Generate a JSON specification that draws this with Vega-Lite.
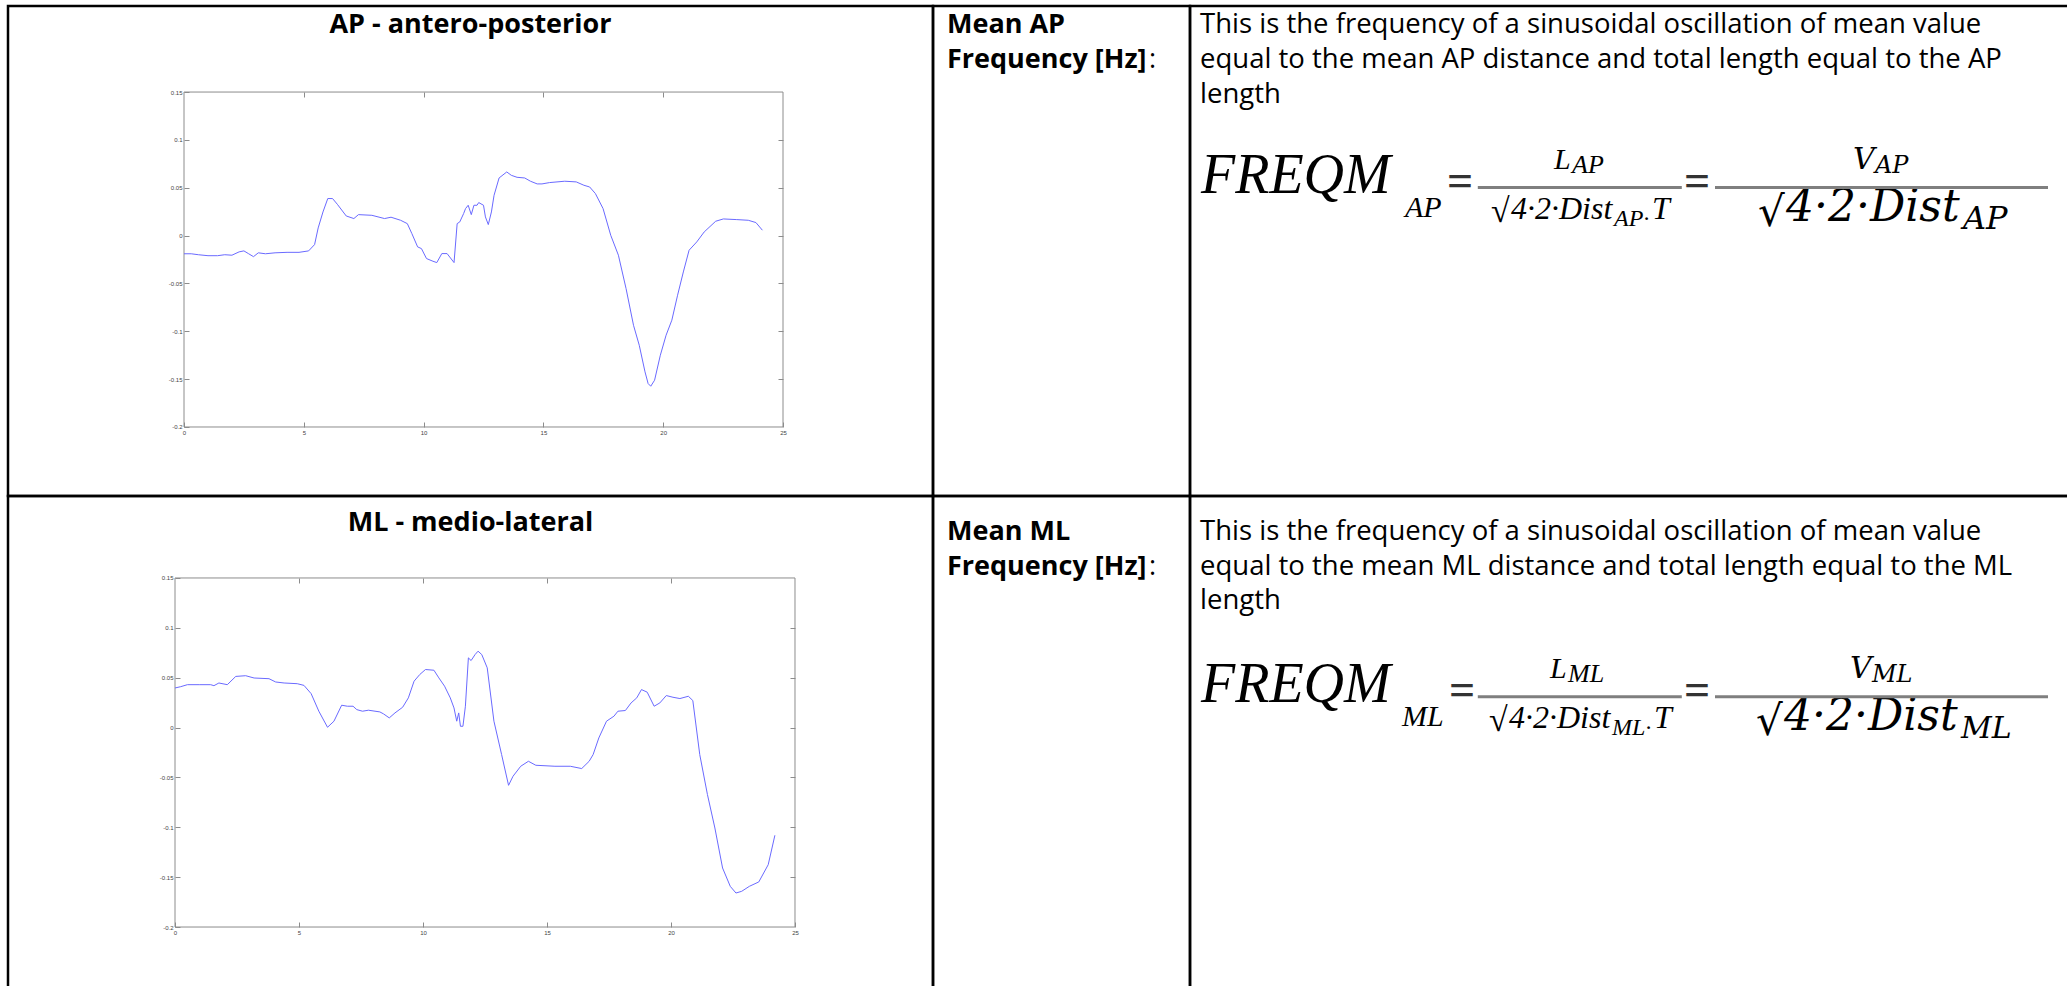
{
 "$schema": "https://vega.github.io/schema/vega-lite/v6.json",
 "autosize": {"type": "pad"},
 "padding": {"left": 6, "top": 4, "right": 0, "bottom": 0},
 "background": "white",
 "config": {
  "view": {"stroke": "#000000", "strokeWidth": 2.5},
  "axis": {"grid": false, "domain": false},
  "concat": {"spacing": 0}
 },
 "datasets": {
  "ap": [
   {"t":0,"v":-0.019},{"t":0.3,"v":-0.019},{"t":0.6,"v":-0.02},{"t":1.0,"v":-0.021},{"t":1.4,"v":-0.021},{"t":1.7,"v":-0.02},{"t":2.0,"v":-0.0205},{"t":2.3,"v":-0.017},{"t":2.5,"v":-0.016},{"t":2.7,"v":-0.019},{"t":2.9,"v":-0.022},{"t":3.1,"v":-0.018},{"t":3.4,"v":-0.019},{"t":3.8,"v":-0.018},{"t":4.3,"v":-0.0175},{"t":4.8,"v":-0.0175},{"t":5.2,"v":-0.016},{"t":5.45,"v":-0.0094},{"t":5.6,"v":0.008},{"t":5.8,"v":0.0247},{"t":6.0,"v":0.0387},{"t":6.2,"v":0.0387},{"t":6.4,"v":0.0327},{"t":6.77,"v":0.0205},{"t":7.09,"v":0.0178},{"t":7.28,"v":0.0219},{"t":7.84,"v":0.0212},{"t":8.37,"v":0.0178},{"t":8.64,"v":0.0192},{"t":9.04,"v":0.016},{"t":9.32,"v":0.0125},{"t":9.51,"v":0.0021},{"t":9.75,"v":-0.0118},{"t":9.91,"v":-0.0136},{"t":10.12,"v":-0.024},{"t":10.39,"v":-0.0268},{"t":10.55,"v":-0.0282},{"t":10.76,"v":-0.0188},{"t":10.98,"v":-0.0188},{"t":11.27,"v":-0.0282},{"t":11.4,"v":0.0125},{"t":11.51,"v":0.0143},{"t":11.67,"v":0.023},{"t":11.75,"v":0.0282},{"t":11.86,"v":0.0317},{"t":11.99,"v":0.0219},{"t":12.1,"v":0.0317},{"t":12.23,"v":0.0317},{"t":12.3,"v":0.0345},{"t":12.5,"v":0.0317},{"t":12.58,"v":0.0195},{"t":12.7,"v":0.0115},{"t":12.83,"v":0.0247},{"t":12.94,"v":0.0421},{"t":13.15,"v":0.0602},{"t":13.47,"v":0.0665},{"t":13.66,"v":0.063},{"t":13.9,"v":0.0609},{"t":14.22,"v":0.0602},{"t":14.46,"v":0.0568},{"t":14.74,"v":0.054},{"t":14.94,"v":0.054},{"t":15.26,"v":0.0554},{"t":15.89,"v":0.0568},{"t":16.37,"v":0.0561},{"t":16.69,"v":0.0526},{"t":16.93,"v":0.0508},{"t":17.17,"v":0.0439},{"t":17.49,"v":0.0282},{"t":17.81,"v":0.0003},{"t":18.13,"v":-0.0205},{"t":18.45,"v":-0.0554},{"t":18.76,"v":-0.0937},{"t":19.0,"v":-0.1146},{"t":19.24,"v":-0.1424},{"t":19.37,"v":-0.1546},{"t":19.48,"v":-0.1574},{"t":19.64,"v":-0.1511},{"t":19.88,"v":-0.125},{"t":20.12,"v":-0.1041},{"t":20.36,"v":-0.0884},{"t":20.6,"v":-0.0623},{"t":20.84,"v":-0.038},{"t":21.08,"v":-0.0153},{"t":21.4,"v":-0.0066},{"t":21.71,"v":0.0038},{"t":22.19,"v":0.015},{"t":22.51,"v":0.0174},{"t":23.07,"v":0.0167},{"t":23.55,"v":0.016},{"t":23.87,"v":0.0136},{"t":24.14,"v":0.0056}
  ],
  "ml": [
   {"t":0,"v":0.0397},{"t":0.23,"v":0.041},{"t":0.5,"v":0.043},{"t":1.0,"v":0.043},{"t":1.44,"v":0.043},{"t":1.57,"v":0.042},{"t":1.77,"v":0.0447},{"t":2.11,"v":0.043},{"t":2.45,"v":0.0513},{"t":2.85,"v":0.052},{"t":3.19,"v":0.0497},{"t":3.79,"v":0.049},{"t":4.06,"v":0.0457},{"t":4.4,"v":0.0447},{"t":4.93,"v":0.044},{"t":5.2,"v":0.0423},{"t":5.49,"v":0.034},{"t":5.8,"v":0.0164},{"t":6.15,"v":0.0003},{"t":6.41,"v":0.0064},{"t":6.72,"v":0.0224},{"t":6.95,"v":0.0214},{"t":7.18,"v":0.0214},{"t":7.33,"v":0.018},{"t":7.56,"v":0.0164},{"t":7.8,"v":0.0174},{"t":8.26,"v":0.0157},{"t":8.41,"v":0.0137},{"t":8.64,"v":0.0097},{"t":8.87,"v":0.0147},{"t":9.18,"v":0.0204},{"t":9.41,"v":0.0298},{"t":9.64,"v":0.0465},{"t":9.87,"v":0.0532},{"t":10.1,"v":0.0582},{"t":10.44,"v":0.0575},{"t":10.64,"v":0.0498},{"t":10.87,"v":0.0415},{"t":11.1,"v":0.0298},{"t":11.25,"v":0.0197},{"t":11.36,"v":0.0064},{"t":11.44,"v":0.0147},{"t":11.51,"v":0.0013},{"t":11.61,"v":0.0013},{"t":11.71,"v":0.0214},{"t":11.83,"v":0.0699},{"t":11.94,"v":0.0672},{"t":12.1,"v":0.0732},{"t":12.22,"v":0.0766},{"t":12.37,"v":0.0732},{"t":12.59,"v":0.0599},{"t":12.86,"v":0.0064},{"t":13.17,"v":-0.0271},{"t":13.45,"v":-0.0579},{"t":13.63,"v":-0.0488},{"t":13.94,"v":-0.0388},{"t":14.25,"v":-0.0338},{"t":14.55,"v":-0.0378},{"t":15.32,"v":-0.0388},{"t":15.94,"v":-0.0388},{"t":16.4,"v":-0.0411},{"t":16.7,"v":-0.0338},{"t":16.86,"v":-0.0271},{"t":17.09,"v":-0.0104},{"t":17.4,"v":0.0064},{"t":17.7,"v":0.0114},{"t":17.86,"v":0.0164},{"t":18.16,"v":0.0171},{"t":18.39,"v":0.0247},{"t":18.62,"v":0.0298},{"t":18.81,"v":0.0381},{"t":19.04,"v":0.0355},{"t":19.32,"v":0.0214},{"t":19.55,"v":0.0247},{"t":19.81,"v":0.0321},{"t":20.08,"v":0.0304},{"t":20.36,"v":0.0291},{"t":20.7,"v":0.0314},{"t":20.88,"v":0.0271},{"t":21.16,"v":-0.0271},{"t":21.47,"v":-0.0672},{"t":21.77,"v":-0.1007},{"t":22.08,"v":-0.1408},{"t":22.39,"v":-0.1592},{"t":22.62,"v":-0.1659},{"t":22.85,"v":-0.1642},{"t":23.16,"v":-0.1592},{"t":23.54,"v":-0.1548},{"t":23.92,"v":-0.1375},{"t":24.19,"v":-0.108}
  ],
  "frame": [{"t0": 0, "t1": 25, "v0": -0.2, "v1": 0.15}],
  "text": [
   {"cell":"AP","col":"label","line":1,"part":"label","text":"Mean AP"},
   {"cell":"AP","col":"label","line":2,"part":"label","text":"Frequency [Hz]"},
   {"cell":"AP","col":"label","line":2,"part":"colon","text":":"},
   {"cell":"AP","col":"desc","line":1,"part":"para","text":"This is the frequency of a sinusoidal oscillation of mean value"},
   {"cell":"AP","col":"desc","line":2,"part":"para","text":"equal to the mean AP distance and total length equal to the AP"},
   {"cell":"AP","col":"desc","line":3,"part":"para","text":"length"},
   {"cell":"AP","col":"desc","line":6,"part":"lhs","text":"FREQM"},
   {"cell":"AP","col":"desc","line":6,"part":"lhsSub","text":"AP"},
   {"cell":"AP","col":"desc","line":6,"part":"eq1","text":"="},
   {"cell":"AP","col":"desc","line":6,"part":"bar1","text":""},
   {"cell":"AP","col":"desc","line":6,"part":"num1","text":"L"},
   {"cell":"AP","col":"desc","line":6,"part":"num1Sub","text":"AP"},
   {"cell":"AP","col":"desc","line":6,"part":"rad1","text":"√"},
   {"cell":"AP","col":"desc","line":6,"part":"den1","text":"4·2·Dist"},
   {"cell":"AP","col":"desc","line":6,"part":"den1Sub","text":"AP·"},
   {"cell":"AP","col":"desc","line":6,"part":"den1T","text":"T"},
   {"cell":"AP","col":"desc","line":6,"part":"eq2","text":"="},
   {"cell":"AP","col":"desc","line":6,"part":"bar2","text":""},
   {"cell":"AP","col":"desc","line":6,"part":"num2","text":"V"},
   {"cell":"AP","col":"desc","line":6,"part":"num2Sub","text":"AP"},
   {"cell":"AP","col":"desc","line":6,"part":"rad2","text":"√"},
   {"cell":"AP","col":"desc","line":6,"part":"den2","text":"4·2·Dist"},
   {"cell":"AP","col":"desc","line":6,"part":"den2Sub","text":"AP"},
   {"cell":"ML","col":"label","line":1,"part":"label","text":"Mean ML"},
   {"cell":"ML","col":"label","line":2,"part":"label","text":"Frequency [Hz]"},
   {"cell":"ML","col":"label","line":2,"part":"colon","text":":"},
   {"cell":"ML","col":"desc","line":1,"part":"para","text":"This is the frequency of a sinusoidal oscillation of mean value"},
   {"cell":"ML","col":"desc","line":2,"part":"para","text":"equal to the mean ML distance and total length equal to the ML"},
   {"cell":"ML","col":"desc","line":3,"part":"para","text":"length"},
   {"cell":"ML","col":"desc","line":6,"part":"lhs","text":"FREQM"},
   {"cell":"ML","col":"desc","line":6,"part":"lhsSub","text":"ML"},
   {"cell":"ML","col":"desc","line":6,"part":"eq1","text":"="},
   {"cell":"ML","col":"desc","line":6,"part":"bar1","text":""},
   {"cell":"ML","col":"desc","line":6,"part":"num1","text":"L"},
   {"cell":"ML","col":"desc","line":6,"part":"num1Sub","text":"ML"},
   {"cell":"ML","col":"desc","line":6,"part":"rad1","text":"√"},
   {"cell":"ML","col":"desc","line":6,"part":"den1","text":"4·2·Dist"},
   {"cell":"ML","col":"desc","line":6,"part":"den1Sub","text":"ML·"},
   {"cell":"ML","col":"desc","line":6,"part":"den1T","text":"T"},
   {"cell":"ML","col":"desc","line":6,"part":"eq2","text":"="},
   {"cell":"ML","col":"desc","line":6,"part":"bar2","text":""},
   {"cell":"ML","col":"desc","line":6,"part":"num2","text":"V"},
   {"cell":"ML","col":"desc","line":6,"part":"num2Sub","text":"ML"},
   {"cell":"ML","col":"desc","line":6,"part":"rad2","text":"√"},
   {"cell":"ML","col":"desc","line":6,"part":"den2","text":"4·2·Dist"},
   {"cell":"ML","col":"desc","line":6,"part":"den2Sub","text":"ML"}
  ]
 },
 "columns": 3,
 "spacing": 0,
 "bounds": "flush",
 "concat": [
  {
   "width": 925,
   "height": 490,
   "title": {"text": "AP - antero-posterior", "font": "Open Sans", "fontSize": 27, "fontWeight": "bold", "color": "#000000", "anchor": "middle", "offset": -54, "baseline": "alphabetic"},
   "resolve": {"axis": {"x": "independent", "y": "independent"}},
   "layer": [
    {
     "data": {"name": "frame"},
     "mark": {"type": "rect", "fillOpacity": 0, "stroke": "#8c8c8c", "strokeWidth": 1},
     "encoding": {
      "x": {"field": "t0", "type": "quantitative", "scale": {"domain": [-7.346, 31.26], "nice": false, "zero": false}, "axis": {"orient": "top", "offset": -86, "values": [5, 10, 15, 20], "labels": false, "domain": false, "grid": false, "tickSize": -5, "tickColor": "#8c8c8c", "title": null}},
      "x2": {"field": "t1"},
      "y": {"field": "v0", "type": "quantitative", "scale": {"domain": [-0.2721, 0.2399], "nice": false, "zero": false}, "axis": {"orient": "right", "offset": -150, "values": [-0.15, -0.1, -0.05, 0, 0.05, 0.1], "labels": false, "domain": false, "grid": false, "tickSize": -5, "tickColor": "#8c8c8c", "title": null}},
      "y2": {"field": "v1"}
     }
    },
    {
     "data": {"name": "ap"},
     "mark": {"type": "line", "color": "#6a6aff", "strokeWidth": 1},
     "encoding": {
      "x": {"field": "t", "type": "quantitative", "scale": {"domain": [-7.346, 31.26], "nice": false, "zero": false}, "axis": {"orient": "bottom", "offset": -69, "values": [0, 5, 10, 15, 20, 25], "domain": false, "grid": false, "tickSize": -5, "tickColor": "#8c8c8c", "labelFont": "Liberation Sans", "labelFontSize": 6, "labelColor": "#444444", "labelPadding": 7, "labelFlush": false, "labelOverlap": false, "title": null}},
      "y": {"field": "v", "type": "quantitative", "scale": {"domain": [-0.2721, 0.2399], "nice": false, "zero": false}, "axis": {"orient": "left", "offset": -176, "values": [-0.2, -0.15, -0.1, -0.05, 0, 0.05, 0.1, 0.15], "domain": false, "grid": false, "tickSize": -5, "tickColor": "#8c8c8c", "labelFont": "Liberation Sans", "labelFontSize": 6, "labelColor": "#444444", "labelPadding": 7, "labelFlush": false, "labelOverlap": false, "labelExpr": "toString(datum.value)", "title": null}}
     }
    }
   ]
  },
  {
   "width": 257,
   "height": 490,
   "data": {"name": "text"},
   "transform": [{"filter": "datum.cell == 'AP' && datum.col == 'label'"}],
   "encoding": {
    "x": {"field": "col", "type": "nominal", "bandPosition": 0, "axis": null, "scale": {"type": "band", "paddingInner": 0, "paddingOuter": 0}},
    "y": {"field": "line", "type": "ordinal", "bandPosition": 0.5, "axis": null, "scale": {"type": "band", "domain": [1,2,3,4,5,6,7,8,9,10,11,12,13,14], "paddingInner": 0, "paddingOuter": 0}},
    "text": {"field": "text"}
   },
   "layer": [
    {"transform": [{"filter": "datum.part == 'label'"}], "mark": {"type": "text", "align": "left", "baseline": "alphabetic", "font": "Open Sans", "fontSize": 27, "fontWeight": "bold", "color": "#000000", "xOffset": 14, "yOffset": 9}},
    {"transform": [{"filter": "datum.part == 'colon'"}], "mark": {"type": "text", "align": "left", "baseline": "alphabetic", "font": "Open Sans", "fontSize": 27, "color": "#000000", "xOffset": 216, "yOffset": 9}}
   ]
  },
  {
   "width": 895,
   "height": 490,
   "data": {"name": "text"},
   "transform": [{"filter": "datum.cell == 'AP' && datum.col == 'desc'"}],
   "encoding": {
    "x": {"field": "col", "type": "nominal", "bandPosition": 0, "axis": null, "scale": {"type": "band", "paddingInner": 0, "paddingOuter": 0}},
    "y": {"field": "line", "type": "ordinal", "bandPosition": 0.5, "axis": null, "scale": {"type": "band", "domain": [1,2,3,4,5,6,7,8,9,10,11,12,13,14], "paddingInner": 0, "paddingOuter": 0}},
    "text": {"field": "text"}
   },
   "layer": [
    {"transform": [{"filter": "datum.part == 'para'"}], "mark": {"type": "text", "align": "left", "baseline": "alphabetic", "font": "Open Sans", "fontSize": 27.5, "color": "#000000", "xOffset": 10, "yOffset": 9}},
    {"transform": [{"filter": "datum.part == 'lhs'"}], "mark": {"type": "text", "align": "left", "baseline": "alphabetic", "font": "Liberation Serif", "fontStyle": "italic", "fontSize": 56, "color": "#000000", "xOffset": 11, "yOffset": -6}},
    {"transform": [{"filter": "datum.part == 'lhsSub'"}], "mark": {"type": "text", "align": "left", "baseline": "alphabetic", "font": "Liberation Serif", "fontStyle": "italic", "fontSize": 30, "color": "#000000", "xOffset": 215, "yOffset": 18}},
    {"transform": [{"filter": "datum.part == 'eq1'"}], "mark": {"type": "text", "align": "left", "baseline": "alphabetic", "font": "Liberation Serif", "fontWeight": "bold", "fontSize": 46, "color": "#333333", "xOffset": 257, "yOffset": -3}},
    {"transform": [{"filter": "datum.part == 'eq2'"}], "mark": {"type": "text", "align": "left", "baseline": "alphabetic", "font": "Liberation Serif", "fontWeight": "bold", "fontSize": 46, "color": "#333333", "xOffset": 494, "yOffset": -3}},
    {"transform": [{"filter": "datum.part == 'num1'"}], "mark": {"type": "text", "align": "left", "baseline": "alphabetic", "font": "Liberation Serif", "fontStyle": "italic", "fontSize": 30, "color": "#000000", "xOffset": 364, "yOffset": -30}},
    {"transform": [{"filter": "datum.part == 'num1Sub'"}], "mark": {"type": "text", "align": "left", "baseline": "alphabetic", "font": "Liberation Serif", "fontStyle": "italic", "fontSize": 26, "color": "#000000", "xOffset": 382, "yOffset": -26}},
    {"transform": [{"filter": "datum.part == 'rad1'"}], "mark": {"type": "text", "align": "left", "baseline": "alphabetic", "font": "Liberation Serif", "fontSize": 34, "color": "#000000", "xOffset": 301, "yOffset": 23}},
    {"transform": [{"filter": "datum.part == 'den1'"}], "mark": {"type": "text", "align": "left", "baseline": "alphabetic", "font": "Liberation Serif", "fontStyle": "italic", "fontSize": 32, "color": "#000000", "xOffset": 321, "yOffset": 20}},
    {"transform": [{"filter": "datum.part == 'den1Sub'"}], "mark": {"type": "text", "align": "left", "baseline": "alphabetic", "font": "Liberation Serif", "fontStyle": "italic", "fontSize": 24, "color": "#000000", "xOffset": 424, "yOffset": 27}},
    {"transform": [{"filter": "datum.part == 'den1T'"}], "mark": {"type": "text", "align": "left", "baseline": "alphabetic", "font": "Liberation Serif", "fontStyle": "italic", "fontSize": 32, "color": "#000000", "xOffset": 462, "yOffset": 20}},
    {"transform": [{"filter": "datum.part == 'num2'"}], "mark": {"type": "text", "align": "left", "baseline": "alphabetic", "font": "DejaVu Serif", "fontStyle": "italic", "fontSize": 30, "color": "#000000", "xOffset": 663, "yOffset": -30}},
    {"transform": [{"filter": "datum.part == 'num2Sub'"}], "mark": {"type": "text", "align": "left", "baseline": "alphabetic", "font": "DejaVu Serif", "fontStyle": "italic", "fontSize": 24, "color": "#000000", "xOffset": 685, "yOffset": -26}},
    {"transform": [{"filter": "datum.part == 'rad2'"}], "mark": {"type": "text", "align": "left", "baseline": "alphabetic", "font": "DejaVu Serif", "fontSize": 42, "color": "#000000", "xOffset": 568, "yOffset": 27}},
    {"transform": [{"filter": "datum.part == 'den2'"}], "mark": {"type": "text", "align": "left", "baseline": "alphabetic", "font": "DejaVu Serif", "fontStyle": "italic", "fontSize": 44, "color": "#000000", "xOffset": 596, "yOffset": 22}},
    {"transform": [{"filter": "datum.part == 'den2Sub'"}], "mark": {"type": "text", "align": "left", "baseline": "alphabetic", "font": "DejaVu Serif", "fontStyle": "italic", "fontSize": 32, "color": "#000000", "xOffset": 773, "yOffset": 30}},
    {"transform": [{"filter": "datum.part == 'bar1'"}], "mark": {"type": "rect", "color": "#7f7f7f", "width": 204, "height": 3, "xOffset": -57.7, "yOffset": -11},
     "encoding": {"x": {"field": "col", "type": "nominal", "axis": null, "scale": {"type": "band", "paddingInner": 0, "paddingOuter": 0}}, "y": {"field": "line", "type": "ordinal", "axis": null, "scale": {"type": "band", "domain": [1,2,3,4,5,6,7,8,9,10,11,12,13,14], "paddingInner": 0, "paddingOuter": 0}}, "text": null}},
    {"transform": [{"filter": "datum.part == 'bar2'"}], "mark": {"type": "rect", "color": "#7f7f7f", "width": 333, "height": 3, "xOffset": 244, "yOffset": -11},
     "encoding": {"x": {"field": "col", "type": "nominal", "axis": null, "scale": {"type": "band", "paddingInner": 0, "paddingOuter": 0}}, "y": {"field": "line", "type": "ordinal", "axis": null, "scale": {"type": "band", "domain": [1,2,3,4,5,6,7,8,9,10,11,12,13,14], "paddingInner": 0, "paddingOuter": 0}}, "text": null}}
   ]
  },
  {
   "width": 925,
   "height": 515,
   "title": {"text": "ML - medio-lateral", "font": "Open Sans", "fontSize": 27, "fontWeight": "bold", "color": "#000000", "anchor": "middle", "offset": -62, "baseline": "alphabetic"},
   "resolve": {"axis": {"x": "independent", "y": "independent"}},
   "layer": [
    {
     "data": {"name": "frame"},
     "mark": {"type": "rect", "fillOpacity": 0, "stroke": "#8c8c8c", "strokeWidth": 1},
     "encoding": {
      "x": {"field": "t0", "type": "quantitative", "scale": {"domain": [-6.734, 30.565], "nice": false, "zero": false}, "axis": {"orient": "top", "offset": -82, "values": [5, 10, 15, 20], "labels": false, "domain": false, "grid": false, "tickSize": -5, "tickColor": "#8c8c8c", "title": null}},
      "x2": {"field": "t1"},
      "y": {"field": "v0", "type": "quantitative", "scale": {"domain": [-0.2842, 0.2322], "nice": false, "zero": false}, "axis": {"orient": "right", "offset": -138, "values": [-0.15, -0.1, -0.05, 0, 0.05, 0.1], "labels": false, "domain": false, "grid": false, "tickSize": -5, "tickColor": "#8c8c8c", "title": null}},
      "y2": {"field": "v1"}
     }
    },
    {
     "data": {"name": "ml"},
     "mark": {"type": "line", "color": "#6a6aff", "strokeWidth": 1},
     "encoding": {
      "x": {"field": "t", "type": "quantitative", "scale": {"domain": [-6.734, 30.565], "nice": false, "zero": false}, "axis": {"orient": "bottom", "offset": -84, "values": [0, 5, 10, 15, 20, 25], "domain": false, "grid": false, "tickSize": -5, "tickColor": "#8c8c8c", "labelFont": "Liberation Sans", "labelFontSize": 6, "labelColor": "#444444", "labelPadding": 7, "labelFlush": false, "labelOverlap": false, "title": null}},
      "y": {"field": "v", "type": "quantitative", "scale": {"domain": [-0.2842, 0.2322], "nice": false, "zero": false}, "axis": {"orient": "left", "offset": -167, "values": [-0.2, -0.15, -0.1, -0.05, 0, 0.05, 0.1, 0.15], "domain": false, "grid": false, "tickSize": -5, "tickColor": "#8c8c8c", "labelFont": "Liberation Sans", "labelFontSize": 6, "labelColor": "#444444", "labelPadding": 7, "labelFlush": false, "labelOverlap": false, "labelExpr": "toString(datum.value)", "title": null}}
     }
    }
   ]
  },
  {
   "width": 257,
   "height": 515,
   "data": {"name": "text"},
   "transform": [{"filter": "datum.cell == 'ML' && datum.col == 'label'"}],
   "encoding": {
    "x": {"field": "col", "type": "nominal", "bandPosition": 0, "axis": null, "scale": {"type": "band", "paddingInner": 0, "paddingOuter": 0}},
    "y": {"field": "line", "type": "ordinal", "bandPosition": 0.5, "axis": null, "scale": {"type": "band", "domain": [1,2,3,4,5,6,7,8,9,10,11,12,13,14,15], "paddingInner": 0, "paddingOuter": 0}},
    "text": {"field": "text"}
   },
   "layer": [
    {"transform": [{"filter": "datum.part == 'label'"}], "mark": {"type": "text", "align": "left", "baseline": "alphabetic", "font": "Open Sans", "fontSize": 27, "fontWeight": "bold", "color": "#000000", "xOffset": 14, "yOffset": 27}},
    {"transform": [{"filter": "datum.part == 'colon'"}], "mark": {"type": "text", "align": "left", "baseline": "alphabetic", "font": "Open Sans", "fontSize": 27, "color": "#000000", "xOffset": 216, "yOffset": 27}}
   ]
  },
  {
   "width": 895,
   "height": 515,
   "data": {"name": "text"},
   "transform": [{"filter": "datum.cell == 'ML' && datum.col == 'desc'"}],
   "encoding": {
    "x": {"field": "col", "type": "nominal", "bandPosition": 0, "axis": null, "scale": {"type": "band", "paddingInner": 0, "paddingOuter": 0}},
    "y": {"field": "line", "type": "ordinal", "bandPosition": 0.5, "axis": null, "scale": {"type": "band", "domain": [1,2,3,4,5,6,7,8,9,10,11,12,13,14,15], "paddingInner": 0, "paddingOuter": 0}},
    "text": {"field": "text"}
   },
   "layer": [
    {"transform": [{"filter": "datum.part == 'para'"}], "mark": {"type": "text", "align": "left", "baseline": "alphabetic", "font": "Open Sans", "fontSize": 27.5, "color": "#000000", "xOffset": 10, "yOffset": 27}},
    {"transform": [{"filter": "datum.part == 'lhs'"}], "mark": {"type": "text", "align": "left", "baseline": "alphabetic", "font": "Liberation Serif", "fontStyle": "italic", "fontSize": 56, "color": "#000000", "xOffset": 11, "yOffset": 17}},
    {"transform": [{"filter": "datum.part == 'lhsSub'"}], "mark": {"type": "text", "align": "left", "baseline": "alphabetic", "font": "Liberation Serif", "fontStyle": "italic", "fontSize": 30, "color": "#000000", "xOffset": 212, "yOffset": 41}},
    {"transform": [{"filter": "datum.part == 'eq1'"}], "mark": {"type": "text", "align": "left", "baseline": "alphabetic", "font": "Liberation Serif", "fontWeight": "bold", "fontSize": 46, "color": "#333333", "xOffset": 259, "yOffset": 20}},
    {"transform": [{"filter": "datum.part == 'eq2'"}], "mark": {"type": "text", "align": "left", "baseline": "alphabetic", "font": "Liberation Serif", "fontWeight": "bold", "fontSize": 46, "color": "#333333", "xOffset": 494, "yOffset": 20}},
    {"transform": [{"filter": "datum.part == 'num1'"}], "mark": {"type": "text", "align": "left", "baseline": "alphabetic", "font": "Liberation Serif", "fontStyle": "italic", "fontSize": 30, "color": "#000000", "xOffset": 360, "yOffset": -7}},
    {"transform": [{"filter": "datum.part == 'num1Sub'"}], "mark": {"type": "text", "align": "left", "baseline": "alphabetic", "font": "Liberation Serif", "fontStyle": "italic", "fontSize": 26, "color": "#000000", "xOffset": 378, "yOffset": -3}},
    {"transform": [{"filter": "datum.part == 'rad1'"}], "mark": {"type": "text", "align": "left", "baseline": "alphabetic", "font": "Liberation Serif", "fontSize": 34, "color": "#000000", "xOffset": 299, "yOffset": 46}},
    {"transform": [{"filter": "datum.part == 'den1'"}], "mark": {"type": "text", "align": "left", "baseline": "alphabetic", "font": "Liberation Serif", "fontStyle": "italic", "fontSize": 32, "color": "#000000", "xOffset": 319, "yOffset": 43}},
    {"transform": [{"filter": "datum.part == 'den1Sub'"}], "mark": {"type": "text", "align": "left", "baseline": "alphabetic", "font": "Liberation Serif", "fontStyle": "italic", "fontSize": 24, "color": "#000000", "xOffset": 422, "yOffset": 50}},
    {"transform": [{"filter": "datum.part == 'den1T'"}], "mark": {"type": "text", "align": "left", "baseline": "alphabetic", "font": "Liberation Serif", "fontStyle": "italic", "fontSize": 32, "color": "#000000", "xOffset": 464, "yOffset": 43}},
    {"transform": [{"filter": "datum.part == 'num2'"}], "mark": {"type": "text", "align": "left", "baseline": "alphabetic", "font": "DejaVu Serif", "fontStyle": "italic", "fontSize": 30, "color": "#000000", "xOffset": 660, "yOffset": -7}},
    {"transform": [{"filter": "datum.part == 'num2Sub'"}], "mark": {"type": "text", "align": "left", "baseline": "alphabetic", "font": "DejaVu Serif", "fontStyle": "italic", "fontSize": 24, "color": "#000000", "xOffset": 682, "yOffset": -3}},
    {"transform": [{"filter": "datum.part == 'rad2'"}], "mark": {"type": "text", "align": "left", "baseline": "alphabetic", "font": "DejaVu Serif", "fontSize": 42, "color": "#000000", "xOffset": 566, "yOffset": 50}},
    {"transform": [{"filter": "datum.part == 'den2'"}], "mark": {"type": "text", "align": "left", "baseline": "alphabetic", "font": "DejaVu Serif", "fontStyle": "italic", "fontSize": 44, "color": "#000000", "xOffset": 594, "yOffset": 45}},
    {"transform": [{"filter": "datum.part == 'den2Sub'"}], "mark": {"type": "text", "align": "left", "baseline": "alphabetic", "font": "DejaVu Serif", "fontStyle": "italic", "fontSize": 30, "color": "#000000", "xOffset": 771, "yOffset": 53}},
    {"transform": [{"filter": "datum.part == 'bar1'"}], "mark": {"type": "rect", "color": "#7f7f7f", "width": 204, "height": 3, "xOffset": -57.7, "yOffset": 12},
     "encoding": {"x": {"field": "col", "type": "nominal", "axis": null, "scale": {"type": "band", "paddingInner": 0, "paddingOuter": 0}}, "y": {"field": "line", "type": "ordinal", "axis": null, "scale": {"type": "band", "domain": [1,2,3,4,5,6,7,8,9,10,11,12,13,14,15], "paddingInner": 0, "paddingOuter": 0}}, "text": null}},
    {"transform": [{"filter": "datum.part == 'bar2'"}], "mark": {"type": "rect", "color": "#7f7f7f", "width": 333, "height": 3, "xOffset": 244, "yOffset": 12},
     "encoding": {"x": {"field": "col", "type": "nominal", "axis": null, "scale": {"type": "band", "paddingInner": 0, "paddingOuter": 0}}, "y": {"field": "line", "type": "ordinal", "axis": null, "scale": {"type": "band", "domain": [1,2,3,4,5,6,7,8,9,10,11,12,13,14,15], "paddingInner": 0, "paddingOuter": 0}}, "text": null}}
   ]
  }
 ]
}
